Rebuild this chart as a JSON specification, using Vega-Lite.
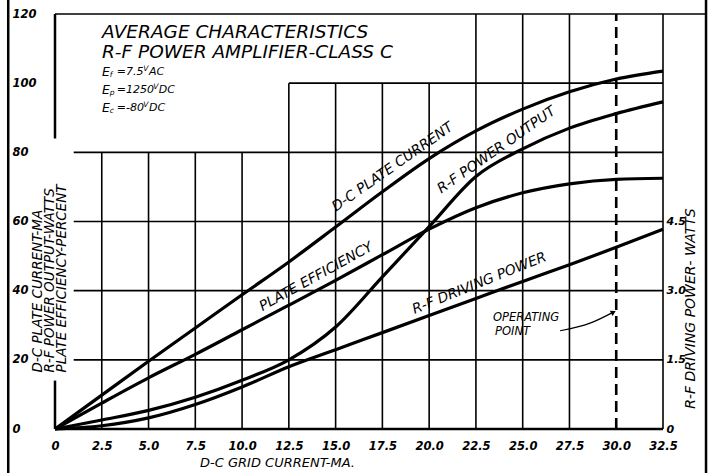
{
  "$schema": "https://vega.github.io/schema/vega-lite/v6.json",
  "width": 608,
  "height": 415,
  "autosize": "none",
  "padding": {"left": 55, "top": 14, "right": 52, "bottom": 44},
  "background": "white",
  "config": {"view": {"stroke": null}, "font": "DejaVu Sans"},
  "datasets": {
    "curves": [
      {"series": "D-C Plate Current", "x": 0, "y": 0},
      {"series": "D-C Plate Current", "x": 2.5, "y": 9.8},
      {"series": "D-C Plate Current", "x": 5, "y": 19.6},
      {"series": "D-C Plate Current", "x": 7.5, "y": 29.2},
      {"series": "D-C Plate Current", "x": 10, "y": 38.8},
      {"series": "D-C Plate Current", "x": 12.5, "y": 48.3},
      {"series": "D-C Plate Current", "x": 15, "y": 58.4},
      {"series": "D-C Plate Current", "x": 17.5, "y": 68.6},
      {"series": "D-C Plate Current", "x": 20, "y": 78.2},
      {"series": "D-C Plate Current", "x": 22.5, "y": 86.2},
      {"series": "D-C Plate Current", "x": 25, "y": 92.5},
      {"series": "D-C Plate Current", "x": 27.5, "y": 97.5},
      {"series": "D-C Plate Current", "x": 30, "y": 101.2},
      {"series": "D-C Plate Current", "x": 32.5, "y": 103.5},
      {"series": "R-F Power Output", "x": 0, "y": 0},
      {"series": "R-F Power Output", "x": 2.5, "y": 2.6},
      {"series": "R-F Power Output", "x": 5, "y": 5.4},
      {"series": "R-F Power Output", "x": 7.5, "y": 9.2},
      {"series": "R-F Power Output", "x": 10, "y": 14.1},
      {"series": "R-F Power Output", "x": 12.5, "y": 20},
      {"series": "R-F Power Output", "x": 15, "y": 29.5},
      {"series": "R-F Power Output", "x": 17.5, "y": 44},
      {"series": "R-F Power Output", "x": 20, "y": 58.5},
      {"series": "R-F Power Output", "x": 22.5, "y": 73},
      {"series": "R-F Power Output", "x": 25, "y": 81},
      {"series": "R-F Power Output", "x": 27.5, "y": 87},
      {"series": "R-F Power Output", "x": 30, "y": 91.2},
      {"series": "R-F Power Output", "x": 32.5, "y": 94.6},
      {"series": "Plate Efficiency", "x": 0, "y": 0},
      {"series": "Plate Efficiency", "x": 2.5, "y": 7.5},
      {"series": "Plate Efficiency", "x": 5, "y": 14.8},
      {"series": "Plate Efficiency", "x": 7.5, "y": 21.6},
      {"series": "Plate Efficiency", "x": 10, "y": 28.7},
      {"series": "Plate Efficiency", "x": 12.5, "y": 35.8},
      {"series": "Plate Efficiency", "x": 15, "y": 43},
      {"series": "Plate Efficiency", "x": 17.5, "y": 50.4},
      {"series": "Plate Efficiency", "x": 20, "y": 57.8},
      {"series": "Plate Efficiency", "x": 22.5, "y": 64},
      {"series": "Plate Efficiency", "x": 25, "y": 68.3},
      {"series": "Plate Efficiency", "x": 27.5, "y": 70.9},
      {"series": "Plate Efficiency", "x": 30, "y": 72.2},
      {"series": "Plate Efficiency", "x": 32.5, "y": 72.5}
    ],
    "driving": [
      {"x": 0, "w": 0},
      {"x": 2.5, "w": 0.07},
      {"x": 5, "w": 0.24},
      {"x": 7.5, "w": 0.53},
      {"x": 10, "w": 0.91},
      {"x": 12.5, "w": 1.35},
      {"x": 15, "w": 1.72},
      {"x": 17.5, "w": 2.09},
      {"x": 20, "w": 2.46},
      {"x": 22.5, "w": 2.83},
      {"x": 25, "w": 3.2},
      {"x": 27.5, "w": 3.56},
      {"x": 30, "w": 3.94},
      {"x": 32.5, "w": 4.33}
    ],
    "lines": [
      {"kind": "grid", "x": 2.5, "x2": 2.5, "y": 0, "y2": 80},
      {"kind": "grid", "x": 5, "x2": 5, "y": 0, "y2": 80},
      {"kind": "grid", "x": 7.5, "x2": 7.5, "y": 0, "y2": 80},
      {"kind": "grid", "x": 10, "x2": 10, "y": 0, "y2": 80},
      {"kind": "grid", "x": 12.5, "x2": 12.5, "y": 0, "y2": 100},
      {"kind": "grid", "x": 15, "x2": 15, "y": 0, "y2": 100},
      {"kind": "grid", "x": 17.5, "x2": 17.5, "y": 0, "y2": 100},
      {"kind": "grid", "x": 20, "x2": 20, "y": 0, "y2": 100},
      {"kind": "grid", "x": 22.5, "x2": 22.5, "y": 0, "y2": 120},
      {"kind": "grid", "x": 25, "x2": 25, "y": 0, "y2": 120},
      {"kind": "grid", "x": 27.5, "x2": 27.5, "y": 0, "y2": 120},
      {"kind": "grid", "x": 32.5, "x2": 32.5, "y": 0, "y2": 120},
      {"kind": "grid", "x": 1, "x2": 32.5, "y": 20, "y2": 20},
      {"kind": "grid", "x": 1, "x2": 32.5, "y": 40, "y2": 40},
      {"kind": "grid", "x": 1, "x2": 32.5, "y": 60, "y2": 60},
      {"kind": "grid", "x": 1, "x2": 32.5, "y": 80, "y2": 80},
      {"kind": "grid", "x": 12.5, "x2": 32.5, "y": 100, "y2": 100},
      {"kind": "grid", "x": 0, "x2": 34.8, "y": 120, "y2": 120},
      {"kind": "axis", "x": 0, "x2": 32.5, "y": 0, "y2": 0},
      {"kind": "axis", "x": 0, "x2": 0, "y": 0, "y2": 14},
      {"kind": "axis", "x": 0, "x2": 0, "y": 84, "y2": 120},
      {"kind": "border", "x": -2.5, "x2": -2.5, "y": -13, "y2": 124.5},
      {"kind": "border", "x": 34.8, "x2": 34.8, "y": -13, "y2": 124.5},
      {"kind": "operating", "x": 30, "x2": 30, "y": 0, "y2": 120}
    ],
    "arrow": [
      {"x": 27.0, "y": 28.4},
      {"x": 28.6, "y": 30.6},
      {"x": 29.85, "y": 33.8}
    ],
    "notes": [
      {"group": "title", "x": 2.51, "y": 114.8, "text": "AVERAGE CHARACTERISTICS"},
      {"group": "title", "x": 2.51, "y": 109.0, "text": "R-F POWER AMPLIFIER-CLASS C"},
      {"group": "e", "x": 2.51, "y": 103.2, "text": "E"},
      {"group": "e", "x": 2.51, "y": 98.0, "text": "E"},
      {"group": "e", "x": 2.51, "y": 92.8, "text": "E"},
      {"group": "sub", "x": 2.93, "y": 102.3, "text": "f"},
      {"group": "sub", "x": 2.93, "y": 97.1, "text": "p"},
      {"group": "sub", "x": 2.93, "y": 91.9, "text": "c"},
      {"group": "rest", "x": 3.3, "y": 103.2, "text": "=7.5"},
      {"group": "rest", "x": 3.3, "y": 98.0, "text": "=1250"},
      {"group": "rest", "x": 3.3, "y": 92.8, "text": "=-80"},
      {"group": "rest", "x": 5.02, "y": 103.2, "text": "AC"},
      {"group": "rest", "x": 5.55, "y": 98.0, "text": "DC"},
      {"group": "rest", "x": 5.02, "y": 92.8, "text": "DC"},
      {"group": "sup", "x": 4.72, "y": 104.2, "text": "V"},
      {"group": "sup", "x": 5.25, "y": 99.0, "text": "V"},
      {"group": "sup", "x": 4.72, "y": 93.8, "text": "V"},
      {"group": "a35", "x": 18.05, "y": 75.7, "text": "D-C PLATE CURRENT"},
      {"group": "a35", "x": 23.6, "y": 80.6, "text": "R-F POWER OUTPUT"},
      {"group": "a29", "x": 13.96, "y": 44.0, "text": "PLATE EFFICIENCY"},
      {"group": "a22", "x": 22.69, "y": 42.1, "text": "R-F DRIVING POWER"},
      {"group": "op", "x": 23.41, "y": 32.1, "text": "OPERATING"},
      {"group": "op", "x": 23.52, "y": 28.0, "text": "POINT"}
    ]
  },
  "layer": [
    {
      "data": {"name": "curves"},
      "mark": {"type": "line", "color": "black", "strokeWidth": 3.2, "interpolate": "monotone"},
      "encoding": {
        "x": {
          "field": "x", "type": "quantitative",
          "scale": {"domain": [0, 32.5], "nice": false, "zero": false},
          "axis": {
            "orient": "bottom",
            "values": [0, 2.5, 5, 7.5, 10, 12.5, 15, 17.5, 20, 22.5, 25, 27.5, 30, 32.5],
            "labelExpr": "datum.value == 0 ? '0' : format(datum.value, '.1f')",
            "domain": false, "ticks": false, "grid": false,
            "labelPadding": 11, "labelFont": "DejaVu Sans", "labelFontSize": 11.5,
            "labelFontWeight": "bold", "labelFontStyle": "italic", "labelColor": "black",
            "labelFlush": false, "labelOverlap": false,
            "title": "D-C GRID CURRENT-MA.",
            "titleFont": "DejaVu Sans", "titleFontSize": 13, "titleFontStyle": "italic",
            "titleFontWeight": "normal", "titleColor": "black",
            "titleX": 222, "titleY": 33, "titleAlign": "center", "titleBaseline": "middle"
          }
        },
        "y": {
          "field": "y", "type": "quantitative",
          "scale": {"domain": [0, 120], "nice": false, "zero": false},
          "axis": {
            "orient": "left",
            "values": [0, 20, 40, 60, 80, 100, 120],
            "domain": false, "ticks": false, "grid": false,
            "labelAlign": "left", "labelPadding": 43, "labelBaseline": "middle",
            "labelFont": "DejaVu Sans", "labelFontSize": 11.5,
            "labelFontWeight": "bold", "labelFontStyle": "italic", "labelColor": "black",
            "labelFlush": false, "labelOverlap": false,
            "title": ["D-C PLATE CURRENT-MA", "R-F POWER OUTPUT-WATTS", "PLATE EFFICIENCY-PERCENT"],
            "titleFont": "DejaVu Sans", "titleFontSize": 13.5, "titleFontStyle": "italic",
            "titleFontWeight": "normal", "titleColor": "black",
            "titleAngle": 270, "titleAlign": "left", "titleBaseline": "top",
            "titleLineHeight": 12, "titleX": -25, "titleY": 358
          }
        },
        "detail": {"field": "series"}
      }
    },
    {
      "data": {"name": "lines"},
      "transform": [{"filter": "datum.kind == 'grid'"}],
      "mark": {"type": "rule", "color": "black", "strokeWidth": 1.6},
      "encoding": {
        "x": {"field": "x", "type": "quantitative"},
        "x2": {"field": "x2"},
        "y": {"field": "y", "type": "quantitative", "axis": null, "scale": {"domain": [0, 120], "nice": false, "zero": false}},
        "y2": {"field": "y2"}
      }
    },
    {
      "data": {"name": "lines"},
      "transform": [{"filter": "datum.kind == 'axis' || datum.kind == 'border'"}],
      "mark": {"type": "rule", "color": "black", "strokeWidth": 2.5},
      "encoding": {
        "x": {"field": "x", "type": "quantitative"},
        "x2": {"field": "x2"},
        "y": {"field": "y", "type": "quantitative", "axis": null, "scale": {"domain": [0, 120], "nice": false, "zero": false}},
        "y2": {"field": "y2"}
      }
    },
    {
      "data": {"name": "lines"},
      "transform": [{"filter": "datum.kind == 'operating'"}],
      "mark": {"type": "rule", "color": "black", "strokeWidth": 2.6, "strokeDash": [11, 6]},
      "encoding": {
        "x": {"field": "x", "type": "quantitative"},
        "x2": {"field": "x2"},
        "y": {"field": "y", "type": "quantitative", "axis": null, "scale": {"domain": [0, 120], "nice": false, "zero": false}},
        "y2": {"field": "y2"}
      }
    },
    {
      "data": {"name": "arrow"},
      "mark": {"type": "line", "color": "black", "strokeWidth": 1.2, "interpolate": "monotone"},
      "encoding": {
        "x": {"field": "x", "type": "quantitative"},
        "y": {"field": "y", "type": "quantitative", "axis": null, "scale": {"domain": [0, 120], "nice": false, "zero": false}}
      }
    },
    {
      "data": {"name": "arrow"},
      "transform": [{"filter": "datum.x > 29.5"}],
      "mark": {"type": "point", "shape": "triangle-right", "filled": true, "color": "black", "size": 35, "angle": 332, "opacity": 1},
      "encoding": {
        "x": {"field": "x", "type": "quantitative"},
        "y": {"field": "y", "type": "quantitative", "axis": null, "scale": {"domain": [0, 120], "nice": false, "zero": false}}
      }
    },
    {
      "data": {"name": "notes"},
      "transform": [{"filter": "datum.group == 'title'"}],
      "mark": {"type": "text", "align": "left", "baseline": "middle", "fontSize": 18.5, "fontStyle": "italic", "font": "DejaVu Sans", "color": "black"},
      "encoding": {
        "x": {"field": "x", "type": "quantitative"},
        "y": {"field": "y", "type": "quantitative", "axis": null, "scale": {"domain": [0, 120], "nice": false, "zero": false}},
        "text": {"field": "text"}
      }
    },
    {
      "data": {"name": "notes"},
      "transform": [{"filter": "datum.group == 'e'"}],
      "mark": {"type": "text", "align": "left", "baseline": "middle", "fontSize": 12.5, "fontStyle": "italic", "font": "DejaVu Sans", "color": "black"},
      "encoding": {
        "x": {"field": "x", "type": "quantitative"},
        "y": {"field": "y", "type": "quantitative", "axis": null, "scale": {"domain": [0, 120], "nice": false, "zero": false}},
        "text": {"field": "text"}
      }
    },
    {
      "data": {"name": "notes"},
      "transform": [{"filter": "datum.group == 'rest'"}],
      "mark": {"type": "text", "align": "left", "baseline": "middle", "fontSize": 11, "fontStyle": "italic", "font": "DejaVu Sans", "color": "black"},
      "encoding": {
        "x": {"field": "x", "type": "quantitative"},
        "y": {"field": "y", "type": "quantitative", "axis": null, "scale": {"domain": [0, 120], "nice": false, "zero": false}},
        "text": {"field": "text"}
      }
    },
    {
      "data": {"name": "notes"},
      "transform": [{"filter": "datum.group == 'sub' || datum.group == 'sup'"}],
      "mark": {"type": "text", "align": "left", "baseline": "middle", "fontSize": 7.5, "fontStyle": "italic", "font": "DejaVu Sans", "color": "black"},
      "encoding": {
        "x": {"field": "x", "type": "quantitative"},
        "y": {"field": "y", "type": "quantitative", "axis": null, "scale": {"domain": [0, 120], "nice": false, "zero": false}},
        "text": {"field": "text"}
      }
    },
    {
      "data": {"name": "notes"},
      "transform": [{"filter": "datum.group == 'a35'"}],
      "mark": {"type": "text", "align": "center", "baseline": "middle", "angle": 325, "fontSize": 14, "fontStyle": "italic", "font": "DejaVu Sans", "color": "black"},
      "encoding": {
        "x": {"field": "x", "type": "quantitative"},
        "y": {"field": "y", "type": "quantitative", "axis": null, "scale": {"domain": [0, 120], "nice": false, "zero": false}},
        "text": {"field": "text"}
      }
    },
    {
      "data": {"name": "notes"},
      "transform": [{"filter": "datum.group == 'a29'"}],
      "mark": {"type": "text", "align": "center", "baseline": "middle", "angle": 331, "fontSize": 14, "fontStyle": "italic", "font": "DejaVu Sans", "color": "black"},
      "encoding": {
        "x": {"field": "x", "type": "quantitative"},
        "y": {"field": "y", "type": "quantitative", "axis": null, "scale": {"domain": [0, 120], "nice": false, "zero": false}},
        "text": {"field": "text"}
      }
    },
    {
      "data": {"name": "notes"},
      "transform": [{"filter": "datum.group == 'a22'"}],
      "mark": {"type": "text", "align": "center", "baseline": "middle", "angle": 338, "fontSize": 14, "fontStyle": "italic", "font": "DejaVu Sans", "color": "black"},
      "encoding": {
        "x": {"field": "x", "type": "quantitative"},
        "y": {"field": "y", "type": "quantitative", "axis": null, "scale": {"domain": [0, 120], "nice": false, "zero": false}},
        "text": {"field": "text"}
      }
    },
    {
      "data": {"name": "notes"},
      "transform": [{"filter": "datum.group == 'op'"}],
      "mark": {"type": "text", "align": "left", "baseline": "middle", "fontSize": 11.5, "fontStyle": "italic", "font": "DejaVu Sans", "color": "black"},
      "encoding": {
        "x": {"field": "x", "type": "quantitative"},
        "y": {"field": "y", "type": "quantitative", "axis": null, "scale": {"domain": [0, 120], "nice": false, "zero": false}},
        "text": {"field": "text"}
      }
    },
    {
      "data": {"name": "driving"},
      "mark": {"type": "line", "color": "black", "strokeWidth": 3.2, "interpolate": "monotone"},
      "encoding": {
        "x": {"field": "x", "type": "quantitative"},
        "y": {
          "field": "w", "type": "quantitative",
          "scale": {"domain": [0, 9], "nice": false, "zero": false},
          "axis": {
            "orient": "right",
            "values": [0, 1.5, 3, 4.5],
            "labelExpr": "datum.value == 0 ? '0' : format(datum.value, '.1f')",
            "domain": false, "ticks": false, "grid": false,
            "labelAlign": "left", "labelPadding": 3, "labelBaseline": "middle",
            "labelFont": "DejaVu Sans", "labelFontSize": 11,
            "labelFontWeight": "bold", "labelFontStyle": "italic", "labelColor": "black",
            "labelFlush": false, "labelOverlap": false,
            "title": "R-F DRIVING POWER- WATTS",
            "titleFont": "DejaVu Sans", "titleFontSize": 14, "titleFontStyle": "italic",
            "titleFontWeight": "normal", "titleColor": "black",
            "titleAngle": 270, "titleAlign": "center", "titleBaseline": "middle",
            "titleX": 27, "titleY": 294
          }
        }
      }
    }
  ],
  "resolve": {"scale": {"y": "independent"}}
}
